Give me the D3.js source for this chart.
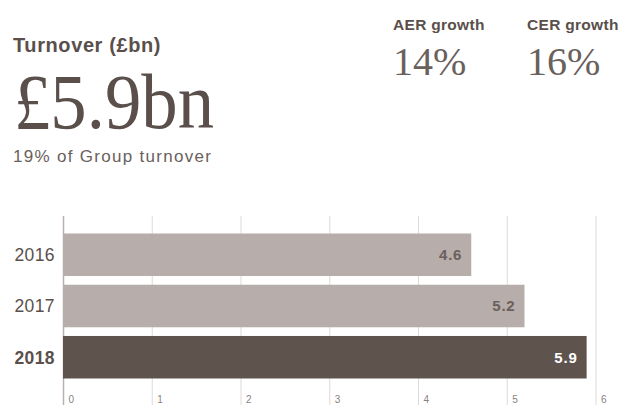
<!DOCTYPE html>
<html>
<head>
<meta charset="utf-8">
<script src="https://cdn.jsdelivr.net/npm/d3@7"></script>
<style>
  html, body { margin: 0; padding: 0; background: #fff; overflow: hidden; }
  svg { display: block; }
</style>
</head>
<body>
<svg id="chart" width="626" height="405"></svg>
<script>
// Turnover by year (£bn)
const years = ["2016", "2017", "2018"];
const turnover = [4.6, 5.2, 5.9];
const xTicks = [0, 1, 2, 3, 4, 5, 6];

const headline = "Turnover (£bn)";
const bigFigure = "£5.9bn";
const subline = "19% of Group turnover";
const growthLabels = ["AER growth", "CER growth"];
const growthValues = ["14%", "16%"];

const W = 626, H = 405;
const svg = d3.select("#chart");

const textCol = "#5a4f4b";
const lightBar = "#b7adaa";
const darkBar = "#5f534e";
const sans = "'Liberation Sans', Arial, sans-serif";
const serif = "'Liberation Serif', 'Times New Roman', serif";

// Header block
svg.append("text")
  .attr("x", 13).attr("y", 52)
  .attr("font-family", sans).attr("font-weight", "bold").attr("font-size", 20)
  .attr("letter-spacing", 0.6)
  .attr("fill", textCol).text(headline);

svg.append("text")
  .attr("x", 14).attr("y", 128)
  .attr("font-family", serif).attr("font-size", 78)
  .attr("fill", textCol).attr("stroke", "#fff").attr("stroke-width", 2)
  .attr("paint-order", "stroke")
  .attr("textLength", 200).attr("lengthAdjust", "spacingAndGlyphs")
  .text(bigFigure);

svg.append("text")
  .attr("x", 13).attr("y", 162)
  .attr("font-family", sans).attr("font-size", 17)
  .attr("letter-spacing", 1.3)
  .attr("fill", "#6a605c").text(subline);

const growthX = [393, 527];
growthLabels.forEach((lab, i) => {
  svg.append("text")
    .attr("x", growthX[i]).attr("y", 30)
    .attr("font-family", sans).attr("font-weight", "bold").attr("font-size", 15.5)
    .attr("letter-spacing", 0.3)
    .attr("fill", textCol).text(lab);
  svg.append("text")
    .attr("x", growthX[i]).attr("y", 75)
    .attr("font-family", serif).attr("font-size", 40)
    .attr("fill", "#6a605c").attr("stroke", "#fff").attr("stroke-width", 1.2)
    .attr("paint-order", "stroke")
    .text(growthValues[i]);
});

// Bar chart
const x = d3.scaleLinear().domain([0, 6]).range([63, 595.5]);
const y = d3.scaleBand().domain(years).range([233.5, 378.5]).paddingInner(0.17).paddingOuter(0);

const gridTop = 216;

// Vertical gridlines with axis labels below
const axis = d3.axisBottom(x).tickValues(xTicks).tickSize(-(H - gridTop + 20)).tickPadding(0).tickFormat(d3.format("d"));
const gAxis = svg.append("g").attr("transform", `translate(0, ${H + 20})`).call(axis);
gAxis.select(".domain").remove();
gAxis.selectAll(".tick line")
  .attr("stroke", d => d === 0 ? "#b9b1ae" : "#dedad8")
  .attr("stroke-width", d => d === 0 ? 1.5 : 1);
gAxis.selectAll(".tick text")
  .attr("x", 5).attr("y", -29).attr("dy", "0.71em")
  .attr("text-anchor", "start")
  .attr("font-family", sans).attr("font-size", 10)
  .attr("fill", "#8a817e");

// Bars
svg.append("g").selectAll("rect")
  .data(turnover)
  .join("rect")
  .attr("x", x(0))
  .attr("y", (d, i) => y(years[i]))
  .attr("width", d => x(d) - x(0))
  .attr("height", y.bandwidth())
  .attr("fill", (d, i) => i === years.length - 1 ? darkBar : lightBar);

// Value labels inside bars
svg.append("g").selectAll("text")
  .data(turnover)
  .join("text")
  .attr("x", d => x(d) - 9)
  .attr("y", (d, i) => y(years[i]) + y.bandwidth() / 2)
  .attr("dy", "0.36em")
  .attr("text-anchor", "end")
  .attr("font-family", sans).attr("font-weight", "bold").attr("font-size", 15)
  .attr("letter-spacing", 0.8)
  .attr("fill", (d, i) => i === years.length - 1 ? "#ffffff" : "#6a605c")
  .text(d => d.toFixed(1));

// Year labels
svg.append("g").selectAll("text")
  .data(years)
  .join("text")
  .attr("x", 55)
  .attr("y", d => y(d) + y.bandwidth() / 2)
  .attr("dy", "0.36em")
  .attr("text-anchor", "end")
  .attr("font-family", sans).attr("font-size", 17.5)
  .attr("letter-spacing", 0.4)
  .attr("font-weight", (d, i) => i === years.length - 1 ? "bold" : "normal")
  .attr("fill", textCol)
  .text(d => d);
</script>
</body>
</html>
